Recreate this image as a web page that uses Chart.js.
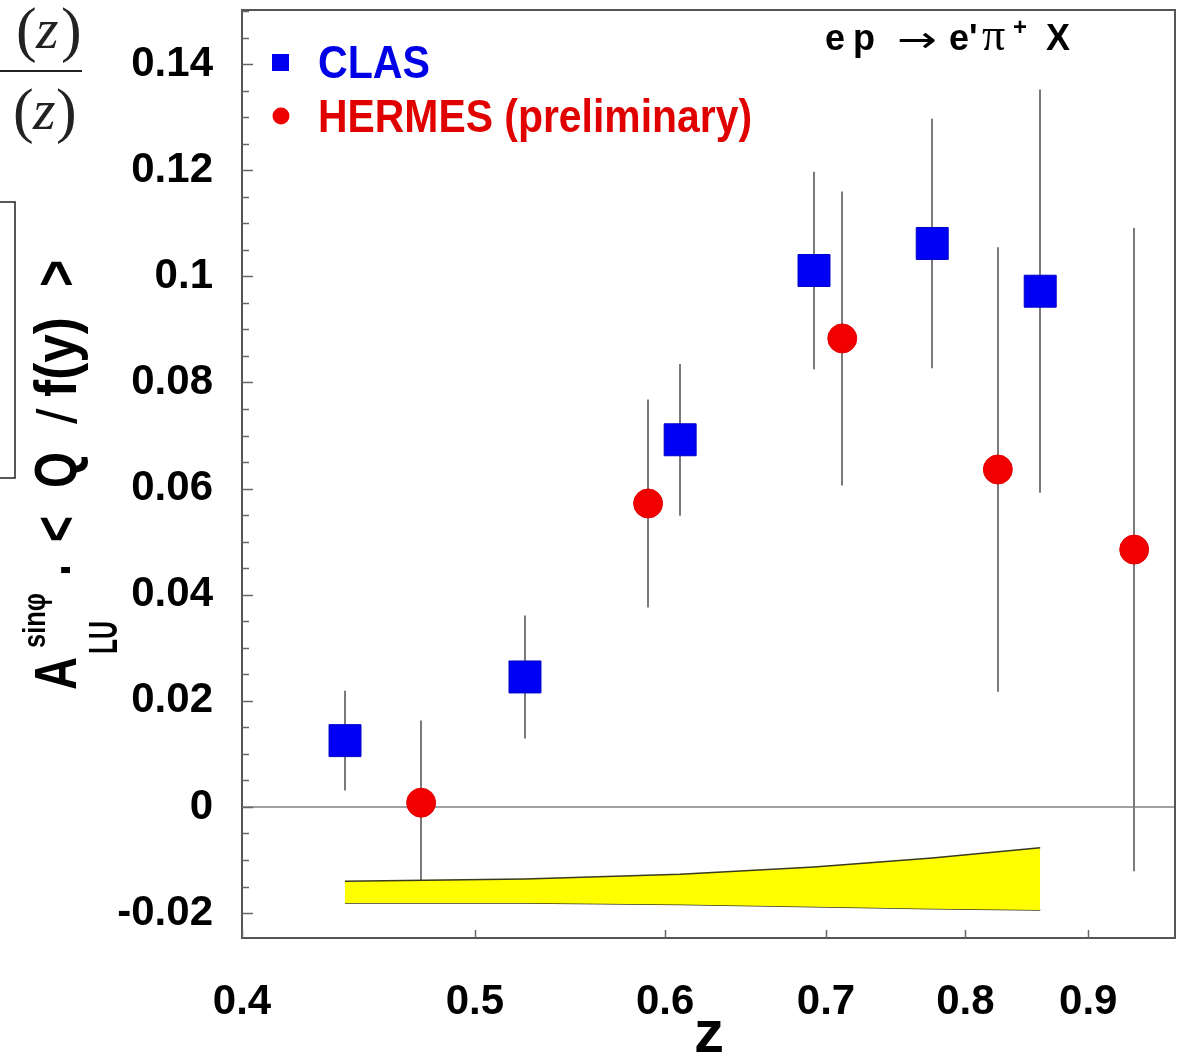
<!DOCTYPE html>
<html>
<head>
<meta charset="utf-8">
<script src="https://cdn.jsdelivr.net/npm/chart.js@4.4.0/dist/chart.umd.min.js"></script>
<style>
body { margin: 0; background: #fff; }
canvas { display: block; }
</style>
</head>
<body>
<canvas id="chart" width="1181" height="1055"></canvas>
<script>
// CLAS points (z, asymmetry, stat. error)
const clasZ = [0.4415, 0.5246, 0.6087, 0.692, 0.775, 0.8595];
const clasA = [0.0125, 0.0245, 0.0692, 0.1011, 0.1062, 0.0972];
const clasErr = [0.0094, 0.0116, 0.0143, 0.0186, 0.0235, 0.0380];

// HERMES preliminary points
const hermesZ = [0.4749, 0.5903, 0.711, 0.8253, 0.9405];
const hermesA = [0.0008, 0.0572, 0.0883, 0.0636, 0.0485];
const hermesErr = [0.0155, 0.0196, 0.0277, 0.0419, 0.0606];

// systematic band (yellow)
const bandZ = [0.4415, 0.5246, 0.6087, 0.692, 0.775, 0.8595];
const bandTop = [-0.0140, -0.0136, -0.0127, -0.0113, -0.0096, -0.0077];
const bandBottom = [-0.0181, -0.0181, -0.0184, -0.0188, -0.0192, -0.0194];

const xTicks = [0.4, 0.5, 0.6, 0.7, 0.8, 0.9];
const xTickLabels = ['0.4', '0.5', '0.6', '0.7', '0.8', '0.9'];
const yTicks = [-0.02, 0, 0.02, 0.04, 0.06, 0.08, 0.1, 0.12, 0.14];
const yTickLabels = ['-0.02', '0', '0.02', '0.04', '0.06', '0.08', '0.1', '0.12', '0.14'];

const SANS = "'Liberation Sans', Arial, Helvetica, sans-serif";
const SERIF = "'Liberation Serif', 'DejaVu Serif', serif";

function points(zs, as) {
    return zs.map((z, i) => ({ x: z, y: as[i] }));
}

// texte comprimé horizontalement pour coller à la largeur voulue
function textFit(ctx, str, x, y, font, w) {
    ctx.font = font;
    const natural = ctx.measureText(str).width;
    ctx.save();
    ctx.translate(x, y);
    ctx.scale(w / natural, 1);
    ctx.fillText(str, 0, 0);
    ctx.restore();
}

const decorations = {
    id: 'decorations',
    beforeDatasetsDraw(chart) {
        const { ctx, scales: { x, y } } = chart;
        ctx.save();
        ctx.strokeStyle = '#7a7a7a';
        ctx.lineWidth = 2;
        const bars = (zs, as, es) => zs.forEach((z, i) => {
            const px = Math.round(x.getPixelForValue(z));
            ctx.beginPath();
            ctx.moveTo(px, y.getPixelForValue(as[i] + es[i]));
            ctx.lineTo(px, y.getPixelForValue(as[i] - es[i]));
            ctx.stroke();
        });
        bars(clasZ, clasA, clasErr);
        bars(hermesZ, hermesA, hermesErr);
        ctx.restore();
    },
    afterDraw(chart) {
        const { ctx, chartArea: a, scales: { x, y } } = chart;
        ctx.save();

        // cadre
        ctx.strokeStyle = '#555';
        ctx.lineWidth = 2;
        ctx.strokeRect(a.left, a.top, a.right - a.left, a.bottom - a.top);

        // petites graduations vers l'intérieur
        ctx.lineWidth = 1.5;
        ctx.strokeStyle = '#666';
        for (let v = -0.02; v <= 0.1501; v += 0.005) {
            const py = Math.round(y.getPixelForValue(v)) + 0.5;
            const major = Math.abs(Math.round(v / 0.02) * 0.02 - v) < 1e-6;
            ctx.beginPath();
            ctx.moveTo(a.left, py);
            ctx.lineTo(a.left + (major ? 11 : 7), py);
            ctx.stroke();
        }
        xTicks.forEach(v => {
            const px = Math.round(x.getPixelForValue(v)) + 0.5;
            ctx.beginPath();
            ctx.moveTo(px, a.bottom);
            ctx.lineTo(px, a.bottom - 8);
            ctx.stroke();
        });

        // légende
        ctx.fillStyle = '#0000f0';
        ctx.fillRect(272, 54, 17, 17);
        ctx.fillStyle = '#ee0000';
        ctx.beginPath();
        ctx.arc(281, 116, 8.5, 0, Math.PI * 2);
        ctx.fill();
        ctx.textBaseline = 'alphabetic';
        ctx.textAlign = 'left';
        ctx.fillStyle = '#0000e6';
        textFit(ctx, 'CLAS', 318, 78, 'bold 46px ' + SANS, 112);
        ctx.fillStyle = '#e00000';
        textFit(ctx, 'HERMES (preliminary)', 318, 132, 'bold 46px ' + SANS, 434);

        // réaction
        ctx.fillStyle = '#000';
        ctx.font = 'bold 36px ' + SANS;
        ctx.fillText('e', 825, 50);
        ctx.fillText('p', 853, 50);
        ctx.fillText("e'", 949, 50);
        ctx.fillText('X', 1046, 50);
        textFit(ctx, '\u2192', 897, 52, "36px 'DejaVu Sans', sans-serif", 40);
        ctx.font = '46px ' + SERIF;
        ctx.fillText('\u03c0', 982, 50);
        ctx.font = 'bold 24px ' + SANS;
        ctx.fillText('+', 1013, 35);

        // titre de l'axe x
        ctx.font = 'bold 60px ' + SANS;
        ctx.textAlign = 'center';
        ctx.fillText('z', 709, 1052);
        ctx.textAlign = 'left';

        // titre de l'axe y (tourné)
        ctx.save();
        ctx.translate(76, 690);
        ctx.rotate(-Math.PI / 2);
        const big = 'bold 60px ' + SANS;
        textFit(ctx, 'A', 0, 0, big, 33);
        textFit(ctx, 'sin\u03c6', 42, -31, 'bold 32px ' + SANS, 55);
        textFit(ctx, 'LU', 36, 41, 'bold 40px ' + SANS, 33);
        textFit(ctx, '.', 114, -6, big, 12);
        textFit(ctx, '<', 148, 0, big, 26);
        textFit(ctx, 'Q', 202, 0, big, 36);
        ctx.font = '56px ' + SANS;
        ctx.fillText('/', 266, 0);
        textFit(ctx, 'f(y)', 293, 0, big, 80);
        textFit(ctx, '>', 403, 0, big, 27);
        ctx.restore();

        // restes de la figure voisine à gauche
        ctx.fillStyle = '#222';
        ctx.strokeStyle = '#222';
        ctx.lineWidth = 2;
        ctx.beginPath();
        ctx.moveTo(0, 71); ctx.lineTo(82, 71);
        ctx.stroke();
        ctx.font = '62px ' + SERIF;
        ctx.fillText('(', 16, 50);
        ctx.fillText(')', 61, 50);
        ctx.fillText('(', 13, 131);
        ctx.fillText(')', 56, 131);
        ctx.font = 'italic 58px ' + SERIF;
        ctx.fillText('z', 36, 48);
        ctx.fillText('z', 33, 129);
        ctx.lineWidth = 1.5;
        ctx.beginPath();
        ctx.moveTo(0, 202); ctx.lineTo(15, 202); ctx.lineTo(15, 478); ctx.lineTo(0, 478);
        ctx.stroke();

        ctx.restore();
    }
};

const ctx = document.getElementById('chart').getContext('2d');
new Chart(ctx, {
    type: 'scatter',
    data: {
        datasets: [
            {
                label: 'band top',
                type: 'line',
                data: points(bandZ, bandTop),
                borderColor: '#3a3a20',
                borderWidth: 1.5,
                backgroundColor: '#ffff00',
                pointRadius: 0,
                fill: '+1',
                order: 3
            },
            {
                label: 'band bottom',
                type: 'line',
                data: points(bandZ, bandBottom),
                borderColor: '#3a3a20',
                borderWidth: 1.5,
                pointRadius: 0,
                fill: false,
                order: 3
            },
            {
                label: 'CLAS',
                data: points(clasZ, clasA),
                pointStyle: 'rect',
                pointRadius: 22.6,
                backgroundColor: '#0000f5',
                borderColor: '#0000c8',
                borderWidth: 1,
                order: 1
            },
            {
                label: 'HERMES (preliminary)',
                data: points(hermesZ, hermesA),
                pointStyle: 'circle',
                pointRadius: 14.5,
                backgroundColor: '#f20000',
                borderColor: '#e00000',
                borderWidth: 1,
                order: 2
            }
        ]
    },
    options: {
        responsive: false,
        animation: false,
        layout: { autoPadding: false, padding: { top: 10, right: 6, left: 0, bottom: 0 } },
        plugins: {
            legend: { display: false },
            tooltip: { enabled: false }
        },
        scales: {
            x: {
                type: 'logarithmic',
                min: 0.4,
                max: 0.978,
                afterBuildTicks: s => { s.ticks = xTicks.map(v => ({ value: v })); },
                afterFit: s => { s.height = 117; s.paddingLeft = 0; s.paddingRight = 0; },
                grid: { display: false },
                border: { display: false },
                ticks: {
                    autoSkip: false,
                    maxRotation: 0,
                    padding: 31,
                    color: '#000',
                    font: { family: SANS, size: 42, weight: 'bold' },
                    callback: v => xTickLabels[xTicks.indexOf(v)]
                }
            },
            y: {
                min: -0.0247,
                max: 0.1502,
                afterBuildTicks: s => { s.ticks = yTicks.map(v => ({ value: v })); },
                afterFit: s => { s.width = 242; s.paddingTop = 0; s.paddingBottom = 0; },
                border: { display: false },
                grid: {
                    drawTicks: false,
                    lineWidth: 2,
                    color: c => (c.tick && c.tick.value === 0) ? '#a0a0a0' : 'rgba(0,0,0,0)'
                },
                ticks: {
                    autoSkip: false,
                    padding: 29,
                    color: '#000',
                    font: { family: SANS, size: 42, weight: 'bold' },
                    callback: v => yTickLabels[yTicks.indexOf(v)]
                }
            }
        }
    },
    plugins: [decorations]
});
</script>
</body>
</html>
